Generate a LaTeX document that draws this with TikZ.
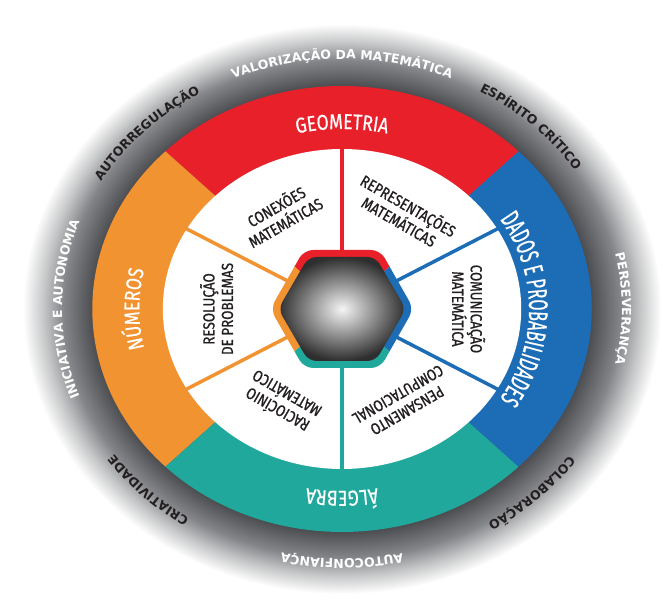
\documentclass[tikz,border=0pt]{standalone}
\usepackage{fontspec}
\usepackage{xcolor}
\usetikzlibrary{decorations.text}

\newfontfamily\ringfont{DejaVu Sans}
\newfontfamily\bandfont{Fira Sans}[FakeStretch=0.82,FakeBold=0.5]
\newfontfamily\dadosfont{Fira Sans}[FakeStretch=0.6,FakeBold=0.5]
\newfontfamily\secfont{Fira Sans}[FakeStretch=0.84,FakeBold=0.8]

\newcommand{\ringtext}{\ringfont\bfseries\fontsize{12.5}{13}\selectfont}
\newcommand{\bandtext}{\bandfont\fontsize{21.5}{22}\selectfont}
\newcommand{\dadostext}{\dadosfont\fontsize{27}{27}\selectfont}

\definecolor{geored}{HTML}{E8202A}
\definecolor{numorange}{HTML}{F29331}
\definecolor{dadosblue}{HTML}{1C6DB5}
\definecolor{algteal}{HTML}{1FA89B}
\definecolor{inkdark}{HTML}{231F20}
\definecolor{halodark}{HTML}{4B4C50}
\definecolor{halomid}{HTML}{848589}
\definecolor{halolight}{HTML}{C6C7C8}

\pgfdeclareradialshading{halo}{\pgfpointorigin}{color(0bp)=(halodark); color(19.5bp)=(halodark); color(21.8bp)=(halomid); color(23.4bp)=(halolight); color(25bp)=(white); color(50bp)=(white)}

\begin{document}
\begin{tikzpicture}[x=1.12pt, y=1pt,
  divider/.style={line width=3.5pt},
  seclabel/.style={font=\secfont\fontsize{16}{18.5}\selectfont, text=inkdark, align=center, inner sep=0pt}]
  \useasboundingbox (-305.4,-291) rectangle (286.6,309);

  % Gray halo behind the wheel
  \shade[shading=halo] (0,0) circle[radius=285];

  % Colored bands
  \fill[geored] (0,0) -- (45:223) arc[start angle=45, end angle=135, radius=223] -- cycle;
  \fill[numorange] (0,0) -- (135:223) arc[start angle=135, end angle=225, radius=223] -- cycle;
  \fill[algteal] (0,0) -- (225:223) arc[start angle=225, end angle=315, radius=223] -- cycle;
  \fill[dadosblue] (0,0) -- (-45:223) arc[start angle=-45, end angle=45, radius=223] -- cycle;

  % White sectors and the lines between them
  \fill[white] (0,0) circle[radius=160];
  \draw[divider, dadosblue] (30:40) -- (30:161);
  \draw[divider, geored] (90:40) -- (90:161);
  \draw[divider, numorange] (150:40) -- (150:161);
  \draw[divider, numorange] (210:40) -- (210:161);
  \draw[divider, algteal] (270:40) -- (270:161);
  \draw[divider, dadosblue] (330:40) -- (330:161);

  % Hexagon with colored rim
  \begin{scope}
    \clip[rounded corners=9pt] (64,0) -- (34,59) -- (-34,59) -- (-64,0) -- (-34,-59) -- (34,-59) -- cycle;
    \fill[geored] (0,0) -- (45:90) arc[start angle=45, end angle=135, radius=90] -- cycle;
    \fill[numorange] (0,0) -- (135:90) arc[start angle=135, end angle=225, radius=90] -- cycle;
    \fill[algteal] (0,0) -- (225:90) arc[start angle=225, end angle=315, radius=90] -- cycle;
    \fill[dadosblue] (0,0) -- (-45:90) arc[start angle=-45, end angle=45, radius=90] -- cycle;
  \end{scope}
  \shade[inner color=white!96!black, outer color=black!82, rounded corners=8pt]
    (57,0) -- (30,52) -- (-30,52) -- (-57,0) -- (-30,-52) -- (30,-52) -- cycle;

  % Band titles
  \path[decorate, decoration={text along path, text align=center, text color=white,
    text={|\bandtext|GEOMETRIA}}] (130:180) arc[start angle=130, end angle=50, radius=180];
  \path[decorate, decoration={text along path, text align=center, text color=white,
    text={|\dadostext|DADOS E PROBABILIDADES}}] (50:167) arc[start angle=50, end angle=-50, radius=167];
  \path[decorate, decoration={text along path, text align=center, text color=white,
    text={|\bandtext|ÁLGEBRA}}] (310:182) arc[start angle=310, end angle=230, radius=182];
  \path[decorate, decoration={text along path, text align=center, text color=white,
    text={|\bandtext|NÚMEROS}}] (220:181) arc[start angle=220, end angle=140, radius=181];

  % Sector labels
  \node[seclabel, rotate=30] (conexoes) at (120:110) {CONEXÕES\\MATEMÁTICAS};
  \node[seclabel, rotate=-30] (representacoes) at (60:111) {REPRESENTAÇÕES\\MATEMÁTICAS};
  \node[seclabel, rotate=-90] (comunicacao) at (0:113) {COMUNICAÇÃO\\MATEMÁTICA};
  \node[seclabel, rotate=-150] (pensamento) at (-60:108) {PENSAMENTO\\COMPUTACIONAL};
  \node[seclabel, rotate=150] (raciocinio) at (240:108) {RACIOCÍNIO\\MATEMÁTICO};
  \node[seclabel, rotate=90] (resolucao) at (180:112) {RESOLUÇÃO\\DE PROBLEMAS};

  % Attitudes around the wheel
  \path[decorate, decoration={text along path, text align=center, text color=white,
    text={|\ringtext|VALORIZAÇÃO DA MATEMÁTICA}}] (130:250) arc[start angle=130, end angle=50, radius=250];
  \path[decorate, decoration={text along path, text align=center, text color=inkdark,
    text={|\ringtext|ESPÍRITO CRÍTICO}}] (86:250) arc[start angle=86, end angle=6, radius=250];
  \path[decorate, decoration={text along path, text align=center, text color=white,
    text={|\ringtext|PERSEVERANÇA}}] (40:250) arc[start angle=40, end angle=-40, radius=250];
  \path[decorate, decoration={text along path, text align=center, text color=inkdark,
    text={|\ringtext|COLABORAÇÃO}}] (-6:250) arc[start angle=-6, end angle=-86, radius=250];
  \path[decorate, decoration={text along path, text align=center, text color=white,
    text={|\ringtext|AUTOCONFIANÇA}}] (310:250) arc[start angle=310, end angle=230, radius=250];
  \path[decorate, decoration={text along path, text align=center, text color=inkdark,
    text={|\ringtext|CRIATIVIDADE}}] (265:250) arc[start angle=265, end angle=185, radius=250];
  \path[decorate, decoration={text along path, text align=center, text color=white,
    text={|\ringtext|INICIATIVA E AUTONOMIA}}] (220:250) arc[start angle=220, end angle=140, radius=250];
  \path[decorate, decoration={text along path, text align=center, text color=inkdark,
    text={|\ringtext|AUTORREGULAÇÃO}}] (176:250) arc[start angle=176, end angle=96, radius=250];
\end{tikzpicture}
\end{document}
